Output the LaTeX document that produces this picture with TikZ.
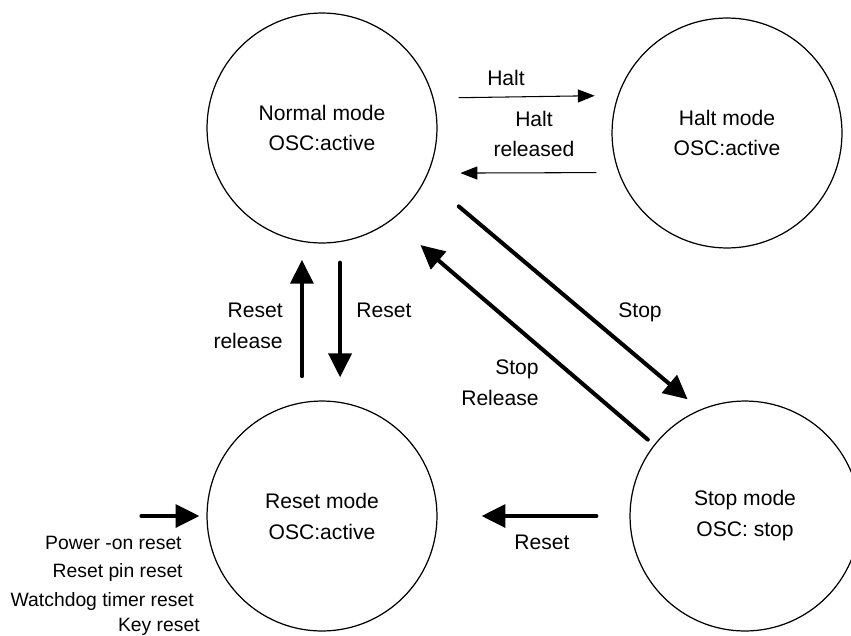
\documentclass[tikz,border=0pt]{standalone}
\usepackage{fontspec}
\setmainfont{Liberation Sans}
\usetikzlibrary{arrows.meta}
\begin{document}
\begin{tikzpicture}[x=0.02cm, y=-0.02cm,
    modecircle/.style={draw, circle, line width=0.7pt, minimum size=4.6cm, inner sep=0pt, align=center, font=\fontsize{12}{17.6}\selectfont},
    thinarrow/.style={line width=0.6pt, -{Triangle[length=9.6pt, width=7.4pt]}},
    thickarrow/.style={line width=2.3pt, line cap=round, -{Triangle[length=13.6pt, width=13pt]}},
    lbl/.style={font=\fontsize{12}{17.6}\selectfont, align=center, inner sep=0pt},
    srclbl/.style={font=\fontsize{11}{16.4}\selectfont, anchor=east, inner sep=0pt}]

                \useasboundingbox (0, 0) rectangle (851, 635);

                \node[modecircle] (normal) at (322, 128) {Normal mode\\OSC:active};

                \node[modecircle] (halt) at (727, 133) {Halt mode\\OSC:active};

                \node[modecircle] (reset) at (322, 516) {Reset mode\\OSC:active};

                \node[modecircle] (stop) at (745, 516) {Stop mode\\OSC: stop};

                \draw[thinarrow, shorten <=0.5cm, shorten >=0.46cm] (normal.15.6) -- (halt.161.8);

                \draw[thinarrow, shorten <=0.44cm, shorten >=0.64cm] (halt.200.4) -- (normal.-23);

                \draw[thickarrow, shorten <=0.86cm, shorten >=0.32cm] (normal.-26.6) -- (stop.113.3);

                \draw[thickarrow, shorten <=0.16cm, shorten >=0.76cm] (stop.142.1) -- (normal.-53.7);

                \draw[thickarrow, shorten <=0.52cm, shorten >=0.36cm] (reset.100) -- (normal.-100);

                \draw[thickarrow, shorten <=0.41cm, shorten >=0.49cm] (normal.-81) -- (reset.81);

                \draw[thickarrow, shorten <=0.66cm, shorten >=0.88cm] (stop.west) -- (reset.east);

                \coordinate (poweron) at ([xshift=-1.3cm]reset.west);

                \draw[thickarrow, shorten >=0.14cm] (poweron) -- (reset.west);

                \node[lbl] (haltlbl) at (506, 78) {Halt};

                \node[lbl] (haltrel) at (534, 134) {Halt\\released};

                \node[lbl, align=right, anchor=east] (resetrel) at (283, 326) {Reset\\release};

                \node[lbl, anchor=west] (resetdown) at (356, 310) {Reset};

                \node[lbl] (stoplbl) at (640, 312) {Stop};

                \node[lbl, align=right, anchor=east] (stoprel) at (539, 383) {Stop\\Release};

                \node[lbl] (resetleft) at (542, 542) {Reset};

                \node[srclbl] (poweronlbl) at (182, 543) {Power -on reset};

                \node[srclbl] (pinlbl) at (183, 572) {Reset pin reset};

                \node[srclbl] (wdtlbl) at (194, 601) {Watchdog timer reset};

                \node[srclbl] (keylbl) at (200, 627) {Key reset};
            \end{tikzpicture}
\end{document}
